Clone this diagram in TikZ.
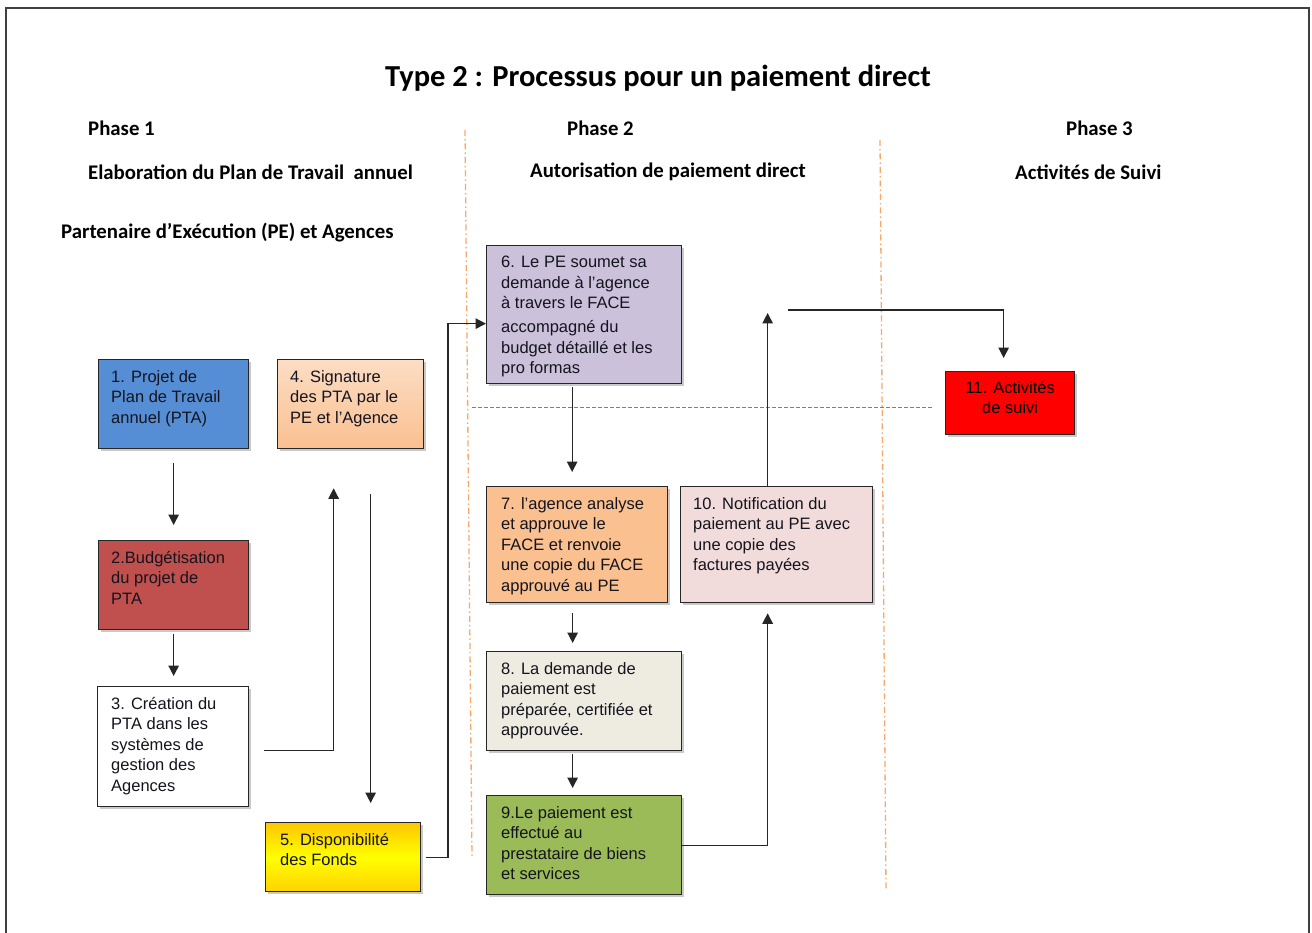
\documentclass[tikz,border=0pt]{standalone}
\usepackage{fontspec}
\setmainfont{Liberation Sans}
\newfontfamily\calib{Carlito}
\usetikzlibrary{arrows.meta,calc,shadows}
\definecolor{c1}{HTML}{558ED5}
\definecolor{c2}{HTML}{C0504D}
\definecolor{c4a}{HTML}{FCDDC4}
\definecolor{c4b}{HTML}{FAC090}
\definecolor{c5a}{HTML}{FFC600}
\definecolor{c5b}{HTML}{FFFF00}
\definecolor{c5c}{HTML}{FFD200}
\definecolor{c6}{HTML}{CCC1DA}
\definecolor{c7}{HTML}{FAC090}
\definecolor{c8}{HTML}{EEECE1}
\definecolor{c9}{HTML}{9BBB59}
\definecolor{c10}{HTML}{F2DCDB}
\definecolor{c11}{HTML}{FF0000}
\definecolor{orln}{HTML}{F8A868}
\definecolor{blln}{HTML}{4F86D6}
\definecolor{txtc}{HTML}{14141E}
\begin{document}
\begin{tikzpicture}[x=1pt,y=-1pt,
  box/.style={draw=black!85, line width=1.3pt, anchor=north west, inner sep=0pt,
    drop shadow={shadow xshift=2.5pt, shadow yshift=-2.5pt, opacity=0.3, fill=black!70}},
  btxt/.style={anchor=north west, inner sep=0pt, align=left, text=txtc,
    font=\fontsize{16.5}{20.5}\selectfont},
  head/.style={anchor=west, inner sep=0pt, font=\calib\bfseries\fontsize{20.8}{23}\selectfont},
  ln/.style={line width=1.3pt, draw=black!85},
  arr/.style={ln, -{Triangle[width=10.5pt,length=10.5pt]}},
  phase/.style={draw=orln, line width=1.3pt, dash pattern=on 6pt off 3pt on 1.5pt off 3pt},
]
\useasboundingbox (0,0) rectangle (1312,933);
% frame
\draw[line width=1.6pt, draw=black!75] (6,933) -- (6,8) -- (1309,8) -- (1309,933);

% title and headers
\node[inner sep=0pt, font=\calib\bfseries\fontsize{30.5}{33}\selectfont] (title) at (658,78) {Type 2 : Processus pour un paiement direct};
\node[head] (ph1) at (88,128) {Phase 1};
\node[head] (ph2) at (567,128) {Phase 2};
\node[head] (ph3) at (1066,128) {Phase 3};
\node[head] (st1) at (88,172) {Elaboration du Plan de Travail\ \ annuel};
\node[head] (st2) at (530,172) {Autorisation de paiement direct};
\node[head] (st3) at (1015,172) {Activités de Suivi};
\node[head] (pe) at (61,233) {Partenaire d’Exécution (PE) et Agences};

% phase separators
\draw[phase] (465,130) -- (472,858);
\draw[phase] (880,140) -- (886,890);
\draw[draw=blln, line width=1pt, dash pattern=on 4pt off 2pt] (472,407) -- (932,407);

% boxes
\node[box, fill=c1, minimum width=150pt, minimum height=89pt] (b1) at (98,359) {};
\node[box, fill=c2, minimum width=150pt, minimum height=89pt] (b2) at (98,540) {};
\node[box, fill=white, minimum width=151pt, minimum height=120pt] (b3) at (97,686) {};
\node[box, top color=c4a, bottom color=c4b, minimum width=146pt, minimum height=89pt] (b4) at (277,359) {};
\node[box, top color=c5a, bottom color=c5c, middle color=c5b, minimum width=155pt, minimum height=69pt] (b5) at (265,822) {};
\node[box, fill=c6, minimum width=195pt, minimum height=138pt] (b6) at (486,245) {};
\node[box, fill=c7, minimum width=181pt, minimum height=116pt] (b7) at (486,486) {};
\node[box, fill=c8, minimum width=195pt, minimum height=99pt] (b8) at (486,651) {};
\node[box, fill=c9, minimum width=195pt, minimum height=99pt] (b9) at (486,795) {};
\node[box, fill=c10, minimum width=192pt, minimum height=116pt] (b10) at (680,486) {};
\node[box, fill=c11, minimum width=129pt, minimum height=63pt] (b11) at (945,371) {};

% box texts
\node[btxt] (t1) at ($(b1.north west)+(13,11)$) {1. Projet de\\Plan de Travail\\annuel (PTA)};
\node[btxt] (t2) at ($(b2.north west)+(13,11)$) {2.Budgétisation\\du projet de\\PTA};
\node[btxt] (t3) at ($(b3.north west)+(14,11)$) {3. Création du\\PTA dans les\\systèmes de\\gestion des\\Agences};
\node[btxt] (t4) at ($(b4.north west)+(13,11)$) {4. Signature\\des PTA par le\\PE et l’Agence};
\node[btxt] (t5) at ($(b5.north west)+(15,11)$) {5. Disponibilité\\des Fonds};
\node[btxt] (t6) at ($(b6.north west)+(15,11)$) {6. Le PE soumet sa\\demande à l’agence\\à travers le FACE\\[3.5pt]accompagné du\\budget détaillé et les\\pro formas};
\node[btxt] (t7) at ($(b7.north west)+(15,11)$) {7. l’agence analyse\\et approuve le\\FACE et renvoie\\une copie du FACE\\approuvé au PE};
\node[btxt] (t8) at ($(b8.north west)+(15,11)$) {8. La demande de\\paiement est\\préparée, certifiée et\\approuvée.};
\node[btxt] (t9) at ($(b9.north west)+(15,11)$) {9.Le paiement est\\effectué au\\prestataire de biens\\et services};
\node[btxt] (t10) at ($(b10.north west)+(13,11)$) {10. Notification du\\paiement au PE avec\\une copie des\\factures payées};
\node[btxt, anchor=north, align=center, text=black] (t11) at ($(b11.north)+(0,10)$) {11. Activités\\de suivi};

% connector end points
\coordinate (s3) at ($(b3.east)+(15,4)$);
\coordinate (e4) at ($(b4.south)+(-17,39)$);
\coordinate (s4) at ($(b4.south)+(20,45)$);
\coordinate (e5) at ($(b5.north)+(27.5,-19)$);
\coordinate (s5) at ($(b5.east)+(5,0)$);
\coordinate (e6) at ($(b6.west)+(0,9)$);
\coordinate (s6) at ($(b6.south)+(-12,3)$);
\coordinate (e7) at ($(b7.north)+(-4.5,-14)$);
\coordinate (s7) at ($(b7.south)+(-4.5,10)$);
\coordinate (e8) at ($(b8.north)+(-11.5,-8)$);
\coordinate (s8) at ($(b8.south)+(-11.5,3)$);
\coordinate (e9) at ($(b9.north)+(-11.5,-7)$);
\coordinate (e10) at ($(b10.south)+(-9,10)$);
\coordinate (s10) at ($(b10.north)+(-9,0)$);
\coordinate (e10u) at ($(b10.north)+(-9,-173)$);
\coordinate (s11) at ($(b10.north)+(11,-176)$);
\coordinate (e11) at ($(b11.north)+(-6.5,-13)$);

% connectors
\draw[arr] ($(b1.south)+(0,14)$) -- ($(b2.north)+(0,-15)$);
\draw[arr] ($(b2.south)+(0,4)$) -- ($(b3.north)+(0.5,-10)$);
\draw[arr] (s3) -| (e4);
\draw[arr] (s4) -- (e5);
\draw[arr] (s5) -| ($(e6)+(-38,0)$) -- (e6);
\draw[arr] (s6) -- (s6 |- e7);
\draw[arr] (s7) -- (e8);
\draw[arr] (s8) -- (e9);
\draw[arr] (b9.east) -| (e10);
\draw[arr] (s10) -- (e10u);
\draw[arr] (s11) -| (e11);
\end{tikzpicture}
\end{document}
